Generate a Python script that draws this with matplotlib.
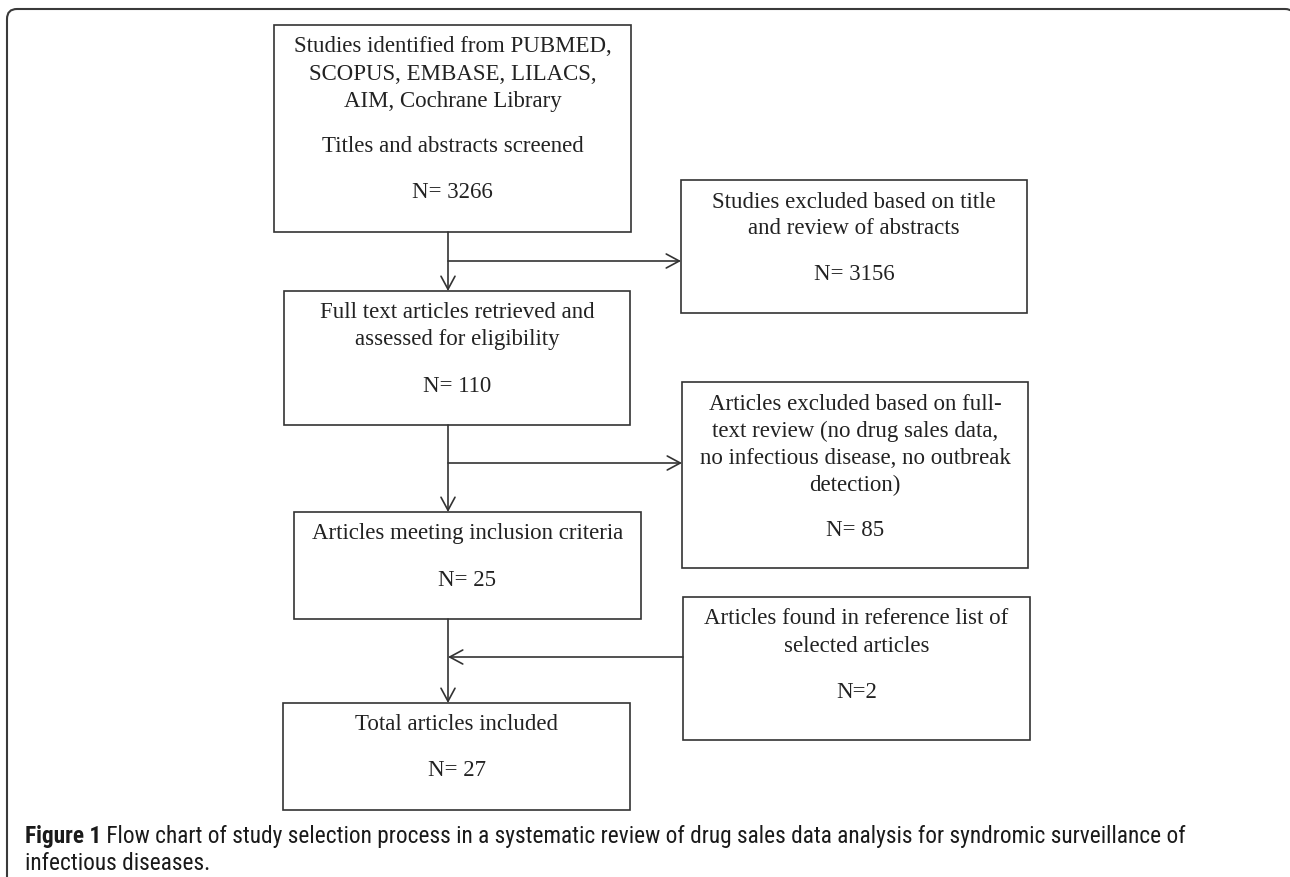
import matplotlib
matplotlib.use("Agg")
import matplotlib.pyplot as plt
from matplotlib import font_manager
from matplotlib.patches import Rectangle, PathPatch
from matplotlib.path import Path

# flow chart content
main_steps = [
    ["Studies identified from PUBMED,\nSCOPUS, EMBASE, LILACS,\nAIM, Cochrane Library",
     "Titles and abstracts screened"],
    ["Full text articles retrieved and\nassessed for eligibility"],
    ["Articles meeting inclusion criteria"],
    ["Total articles included"],
]
main_counts = [3266, 110, 25, 27]

side_steps = [
    ["Studies excluded based on title\nand review of abstracts"],
    ["Articles excluded based on full-\ntext review (no drug sales data,\nno infectious disease, no outbreak\ndetection)"],
    ["Articles found in reference list of\nselected articles"],
]
side_counts = [3156, 85, 2]
side_count_fmt = ["N= {}", "N= {}", "N={}"]

caption_bold = "Figure 1"
caption_rest = (" Flow chart of study selection process in a systematic review of "
                "drug sales data analysis for syndromic surveillance of")
caption_line2 = "infectious diseases."

# box geometry in pixels (x0, y0, x1, y1)
main_boxes = [(274, 25, 631, 232), (284, 291, 630, 425),
              (294, 512, 641, 619), (283, 703, 630, 810)]
side_boxes = [(681, 180, 1027, 313), (682, 382, 1028, 568),
              (683, 597, 1030, 740)]
spine_x = 448
branch_y = [261, 463, 657]

edge = "#333333"
serif = ["Liberation Serif", "DejaVu Serif"]
names = font_manager.get_font_names()
cap_family = [f for f in ["Liberation Sans Narrow", "Roboto Condensed", "Roboto"] if f in names][:1] + ["DejaVu Sans"]

fig = plt.figure(figsize=(12.9, 8.77), dpi=100)
ax = fig.add_axes([0, 0, 1, 1])
ax.set_xlim(0, 1290)
ax.set_ylim(877, 0)
ax.axis("off")

# outer frame: only left side and top with rounded corners are on the page
fl, ft, fr, r = 7, 9, 1295, 10
frame = Path([(fl, 900), (fl, ft + r), (fl, ft), (fl + r, ft), (fr - r, ft),
              (fr, ft), (fr, ft + r), (fr, 900)],
             [Path.MOVETO, Path.LINETO, Path.CURVE3, Path.CURVE3, Path.LINETO,
              Path.CURVE3, Path.CURVE3, Path.LINETO])
ax.add_patch(PathPatch(frame, fill=False, ec="#3a3a3a", lw=1.5))


def draw_box(box, paragraphs, count_text):
    x0, y0, x1, y1 = box
    ax.add_patch(Rectangle((x0, y0), x1 - x0, y1 - y0, fill=False, ec=edge, lw=1.2))
    cx = (x0 + x1) / 2
    y = y0 + 22
    for para in paragraphs + [count_text]:
        for line in para.split("\n"):
            ax.text(cx, y, line, ha="center", va="center", fontsize=16.5,
                    family=serif, color="#222222")
            y += 27
        y += 46 - 27


for box, paras, n in zip(main_boxes, main_steps, main_counts):
    draw_box(box, paras, f"N= {n}")
for box, paras, n, fmt in zip(side_boxes, side_steps, side_counts, side_count_fmt):
    draw_box(box, paras, fmt.format(n))

arrow = dict(arrowstyle="->,head_length=1.3,head_width=0.7", mutation_scale=7.2,
             lw=1.2, color=edge, shrinkA=0, shrinkB=0)

# main vertical arrows and side branches
for i in range(3):
    top = main_boxes[i][3]
    bottom = main_boxes[i + 1][1]
    ax.annotate("", xy=(spine_x, bottom), xytext=(spine_x, top), arrowprops=arrow)
for i in range(2):
    ax.annotate("", xy=(side_boxes[i][0], branch_y[i]), xytext=(spine_x, branch_y[i]),
                arrowprops=arrow)
ax.annotate("", xy=(spine_x, branch_y[2]), xytext=(side_boxes[2][0], branch_y[2]),
            arrowprops=arrow)

# caption
t = ax.text(25, 836, caption_bold, ha="left", va="center", fontsize=16.8,
            family=cap_family, weight="bold", color="#1a1a1a")
fig.canvas.draw()
bb = t.get_window_extent()
x_after = ax.transData.inverted().transform((bb.x1, bb.y0))[0]
ax.text(x_after, 836, caption_rest, ha="left", va="center", fontsize=16.8,
        family=cap_family, color="#1a1a1a")
ax.text(25, 863, caption_line2, ha="left", va="center", fontsize=16.8,
        family=cap_family, color="#1a1a1a")

fig.savefig("out.png", dpi=100)
